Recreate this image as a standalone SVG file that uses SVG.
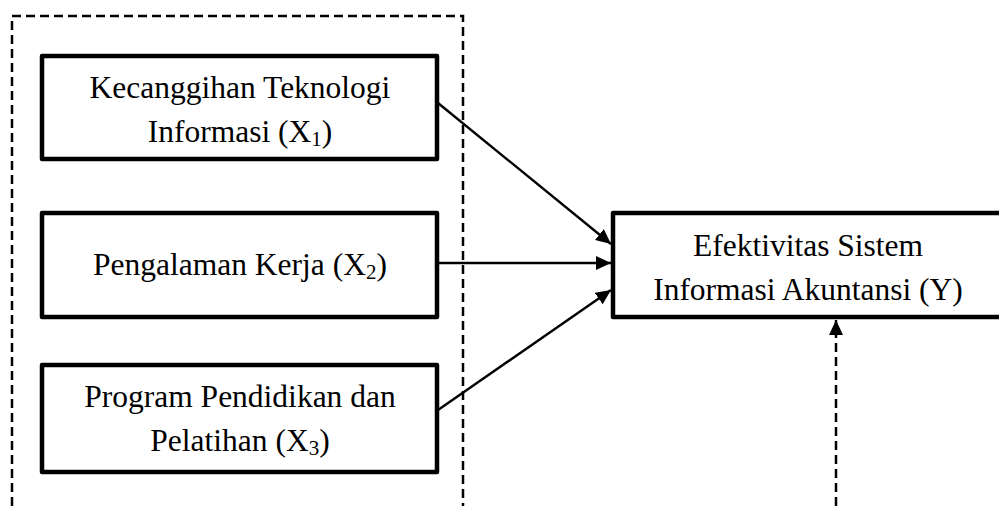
<svg xmlns="http://www.w3.org/2000/svg" width="999" height="506" viewBox="0 0 999 506">
<style>
.box{fill:#fff;stroke:#000;stroke-width:4.5;stroke-linejoin:round}
.t{font-family:"Liberation Serif","Times New Roman",serif;font-size:31.5px;fill:#000;text-anchor:middle}
.sub{font-size:21px}
.dash{fill:none;stroke:#000;stroke-width:2.5;stroke-dasharray:9 5}
.ln{fill:none;stroke:#000;stroke-width:2.4}
</style>
<defs>
<marker id="ah" markerUnits="userSpaceOnUse" markerWidth="15" markerHeight="14" refX="15" refY="7" orient="auto">
<path d="M0,0 L15,7 L0,14 z" fill="#000"/>
</marker>
</defs>
<g id="group-boundary">
<path class="dash" d="M12,506 L12,16 L463,16 L463,506"/>
</g>
<g id="x1">
<rect class="box" x="42" y="56" width="395" height="103"/>
<text class="t" x="240" y="98">Kecanggihan Teknologi</text>
<text class="t" x="240" y="142">Informasi (X<tspan class="sub" dy="4">1</tspan><tspan dy="-4">)</tspan></text>
</g>
<g id="x2">
<rect class="box" x="42" y="213" width="395" height="104"/>
<text class="t" x="240" y="275">Pengalaman Kerja (X<tspan class="sub" dy="4">2</tspan><tspan dy="-4">)</tspan></text>
</g>
<g id="x3">
<rect class="box" x="42" y="365" width="395" height="107"/>
<text class="t" x="240" y="407">Program Pendidikan dan</text>
<text class="t" x="240" y="451">Pelatihan (X<tspan class="sub" dy="4">3</tspan><tspan dy="-4">)</tspan></text>
</g>
<g id="y">
<rect class="box" x="613" y="213" width="392" height="104"/>
<text class="t" x="808" y="256">Efektivitas Sistem</text>
<text class="t" x="808" y="300">Informasi Akuntansi (Y)</text>
</g>
<g id="connectors">
<line class="ln" x1="438" y1="103" x2="611" y2="244" marker-end="url(#ah)"/>
<line class="ln" x1="438" y1="263" x2="611" y2="263" marker-end="url(#ah)"/>
<line class="ln" x1="438" y1="410" x2="611" y2="290" marker-end="url(#ah)"/>
<line class="dash" x1="836" y1="506" x2="836" y2="320" marker-end="url(#ah)"/>
</g>
</svg>
